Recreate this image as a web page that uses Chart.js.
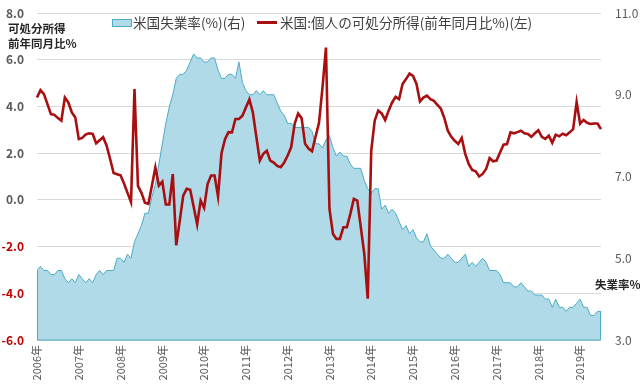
<!DOCTYPE html>
<html>
<head>
<meta charset="utf-8">
<script src="https://cdn.jsdelivr.net/npm/chart.js@4/dist/chart.umd.min.js"></script>
<style>
  body { margin: 0; background: #fff; }
  #wrap { position: relative; width: 640px; height: 385px; font-family: "Noto Sans CJK JP", sans-serif; }
  .ttl { position: absolute; font-weight: bold; font-size: 11.5px; color: #262626; line-height: 1; white-space: nowrap; }
  .leg { position: absolute; top: 14px; font-size: 13.6px; color: #404040; line-height: 16px; white-space: nowrap; }
  .box { position: absolute; top: 19px; left: 112px; width: 18px; height: 6px; background: #b0dae7; border: 1px solid #4bacc6; }
  .red { position: absolute; top: 21px; left: 257px; width: 20px; height: 3px; background: #a80f10; }
</style>
</head>
<body>
<div id="wrap">
  <canvas id="c" width="640" height="385"></canvas>
  <div class="box"></div>
  <div class="leg" style="left:133px">米国失業率(%)(右)</div>
  <div class="red"></div>
  <div class="leg" style="left:280px">米国:個人の可処分所得(前年同月比%)(左)</div>
  <div class="ttl" style="left:8px;top:23px">可処分所得</div>
  <div class="ttl" style="left:8px;top:38px">前年同月比%</div>
  <div class="ttl" style="left:595px;top:279px">失業率%</div>
</div>
<script>
// 月次データ 2006年1月〜2019年7月
const years = [2006, 2007, 2008, 2009, 2010, 2011, 2012, 2013, 2014, 2015, 2016, 2017, 2018, 2019];

// 米国失業率(%) 右軸
const unemployment = [
  4.7, 4.8, 4.7, 4.7, 4.6, 4.6, 4.7, 4.7, 4.5, 4.4, 4.5, 4.4,
  4.6, 4.5, 4.4, 4.5, 4.4, 4.6, 4.7, 4.6, 4.7, 4.7, 4.7, 5.0,
  5.0, 4.9, 5.1, 5.0, 5.4, 5.6, 5.8, 6.1, 6.1, 6.5, 6.8, 7.3,
  7.8, 8.3, 8.7, 9.0, 9.4, 9.5, 9.5, 9.6, 9.8, 10.0, 9.9, 9.9,
  9.8, 9.8, 9.9, 9.9, 9.6, 9.4, 9.4, 9.5, 9.5, 9.4, 9.8, 9.3,
  9.1, 9.0, 9.0, 9.1, 9.0, 9.1, 9.0, 9.0, 9.0, 8.8, 8.6, 8.5,
  8.3, 8.3, 8.2, 8.2, 8.2, 8.2, 8.2, 8.1, 7.8, 7.8, 7.7, 7.9,
  8.0, 7.7, 7.5, 7.6, 7.5, 7.5, 7.3, 7.2, 7.2, 7.2, 6.9, 6.7,
  6.6, 6.7, 6.7, 6.2, 6.3, 6.1, 6.2, 6.1, 5.9, 5.7, 5.8, 5.6,
  5.7, 5.5, 5.4, 5.4, 5.6, 5.3, 5.2, 5.1, 5.0, 5.0, 5.1, 5.0,
  4.9, 4.9, 5.0, 5.1, 4.8, 4.9, 4.8, 4.9, 5.0, 4.9, 4.7, 4.7,
  4.7, 4.6, 4.4, 4.4, 4.4, 4.3, 4.3, 4.4, 4.3, 4.2, 4.2, 4.1,
  4.1, 4.1, 4.0, 4.0, 3.8, 4.0, 3.8, 3.8, 3.7, 3.8, 3.8, 3.9,
  4.0, 3.8, 3.8, 3.6, 3.6, 3.7, 3.7
];

// 米国:個人の可処分所得(前年同月比%) 左軸
const income = [
  4.38, 4.7, 4.53, 4.1, 3.67, 3.64, 3.5, 3.39, 4.38, 4.17, 3.74, 3.53,
  2.6, 2.65, 2.8, 2.85, 2.82, 2.42, 2.55, 2.68, 2.32, 1.75, 1.15, 1.1,
  1.05, 0.7, 0.3, -0.1, 4.74, 0.6, 0.3, -0.12, -0.17, 0.6, 1.39, 0.61,
  0.78, -0.2, -0.2, 1.1, -1.95, -0.9, 0.18, 0.47, 0.43, -0.3, -1.05, -0.03,
  -0.34, 0.68, 1.04, 1.04, 0.15, 2.0, 2.6, 2.9, 2.89, 3.46, 3.46, 3.6,
  3.95, 4.3, 3.74, 2.7, 1.68, 1.97, 2.1, 1.68, 1.6, 1.45, 1.4, 1.6,
  1.9, 2.25, 3.25, 3.7, 3.5, 2.4, 2.2, 2.08, 2.7, 3.3, 4.81, 6.52,
  -0.38, -1.45, -1.67, -1.67, -1.17, -1.17, -0.6, 0.04, -0.03, -1.17, -2.3, -4.23,
  2.1, 3.39, 3.82, 3.7, 3.42, 3.82, 4.17, 4.41, 4.31, 4.96, 5.17, 5.41,
  5.31, 4.96, 4.21, 4.38, 4.46, 4.31, 4.24, 4.07, 3.9, 3.5, 2.96, 2.7,
  2.53, 2.39, 2.65, 1.97, 1.54, 1.28, 1.22, 1.0, 1.11, 1.32, 1.79, 1.65,
  1.68, 2.03, 2.36, 2.39, 2.89, 2.85, 2.9, 2.96, 2.85, 2.82, 2.7, 2.85,
  2.98, 2.7, 2.61, 2.75, 2.44, 2.79, 2.72, 2.83, 2.77, 2.89, 3.03, 4.19,
  3.26, 3.42, 3.3, 3.25, 3.27, 3.27, 3.03
];

const leftTicks = [-6, -4, -2, 0, 2, 4, 6, 8];
const rightTicks = [3, 5, 7, 9, 11];

const months = [];
years.forEach(y => {
  for (let m = 1; m <= 12; m++) months.push(y + '/' + m);
});
months.length = income.length;

// 面グラフの輪郭(左右の縦線)
const areaEdges = {
  id: 'areaEdges',
  afterDatasetDraw(chart, args) {
    if (args.index !== 1) return;
    const pts = args.meta.data;
    const bottom = chart.chartArea.bottom;
    const ctx = chart.ctx;
    ctx.save();
    ctx.strokeStyle = '#4bacc6';
    ctx.lineWidth = 1;
    ctx.beginPath();
    ctx.moveTo(pts[0].x + 0.5, pts[0].y);
    ctx.lineTo(pts[0].x + 0.5, bottom);
    ctx.lineTo(pts[pts.length - 1].x - 0.5, bottom);
    ctx.lineTo(pts[pts.length - 1].x - 0.5, pts[pts.length - 1].y);
    ctx.stroke();
    ctx.restore();
  }
};

// 縦軸の幅を固定し、目盛ラベルの上下余白を無効化
const fitY = w => s => {
  s.width = w;
  s.paddingTop = 0;
  s.paddingBottom = 0;
};

new Chart(document.getElementById('c'), {
  type: 'line',
  data: {
    labels: months,
    datasets: [
      {
        label: '米国:個人の可処分所得(前年同月比%)(左)',
        data: income,
        yAxisID: 'y',
        borderColor: '#a80f10',
        borderWidth: 2.6,
        pointRadius: 0,
        tension: 0,
        fill: false
      },
      {
        label: '米国失業率(%)(右)',
        data: unemployment,
        yAxisID: 'y1',
        borderColor: '#4bacc6',
        backgroundColor: '#b0dae7',
        borderWidth: 1,
        pointRadius: 0,
        tension: 0,
        fill: 'start'
      }
    ]
  },
  options: {
    responsive: false,
    animation: false,
    devicePixelRatio: 1,
    layout: { padding: { top: 13, left: 0, right: 0, bottom: 0 } },
    plugins: {
      legend: { display: false },
      tooltip: { enabled: false }
    },
    scales: {
      x: {
        grid: { display: false, drawTicks: false },
        border: { display: false },
        ticks: {
          autoSkip: false,
          maxRotation: 90,
          minRotation: 90,
          padding: 5,
          color: '#595959',
          font: { family: '"Noto Sans CJK JP"', size: 11 },
          callback: (v, i) => (i % 12 === 0 ? years[i / 12] + '年' : '')
        },
        afterFit: s => {
          s.height = 45;
          s.paddingLeft = 0;
          s.paddingRight = 0;
        }
      },
      y: {
        position: 'left',
        min: leftTicks[0],
        max: leftTicks[leftTicks.length - 1],
        grid: { color: '#d9d9d9', drawTicks: false },
        border: { display: false },
        ticks: {
          stepSize: 2,
          padding: 13,
          font: { family: '"Noto Sans CJK JP"', size: 12, weight: 'bold' },
          color: ctx => (ctx.tick && ctx.tick.value < 0 ? '#c00000' : '#595959'),
          callback: v => v.toFixed(1)
        },
        afterFit: fitY(37)
      },
      y1: {
        position: 'right',
        min: rightTicks[0],
        max: rightTicks[rightTicks.length - 1],
        grid: { display: false, drawTicks: false },
        border: { display: false },
        ticks: {
          stepSize: 2,
          padding: 14,
          color: '#595959',
          font: { family: '"Noto Sans CJK JP"', size: 12 },
          callback: v => v.toFixed(1)
        },
        afterFit: fitY(39)
      }
    }
  },
  plugins: [areaEdges]
});
</script>
</body>
</html>
